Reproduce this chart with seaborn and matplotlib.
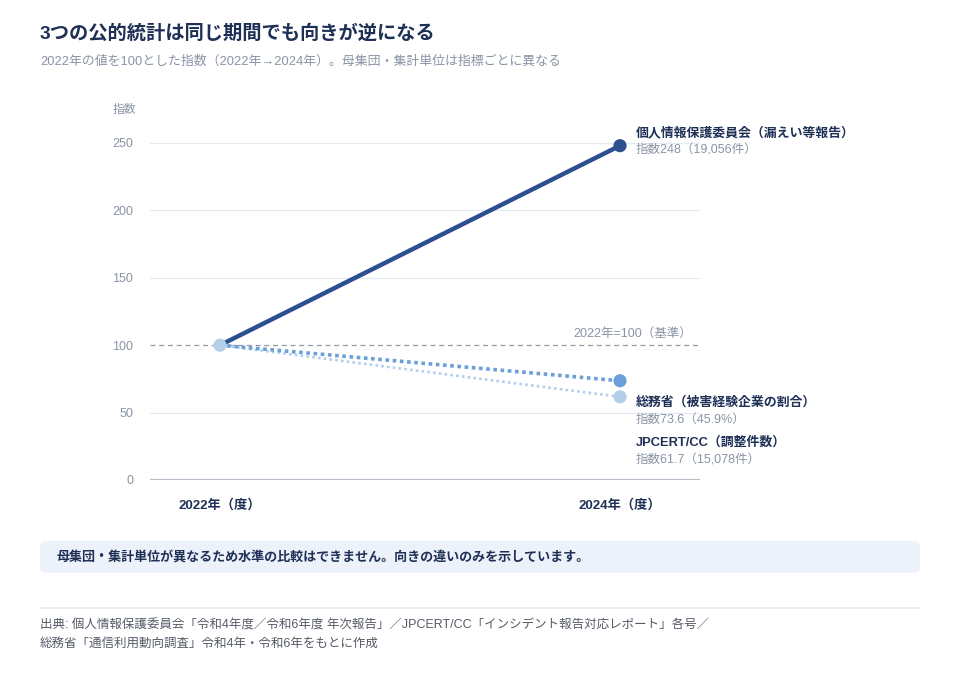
import pandas as pd
import seaborn as sns
import matplotlib.pyplot as plt
from matplotlib.patches import FancyBboxPatch

# data
years = ["2022年（度）", "2024年（度）"]
series_names = ["個人情報保護委員会（漏えい等報告）", "総務省（被害経験企業の割合）", "JPCERT/CC（調整件数）"]
index_2022 = [100, 100, 100]
index_2024 = [248, 73.6, 61.7]
value_notes = ["指数248（19,056件）", "指数73.6（45.9%）", "指数61.7（15,078件）"]
y_ticks = [0, 50, 100, 150, 200, 250]

colors = ["#2e4f8f", "#6a9fd8", "#b4cfec"]
styles = ["-", (0, (1, 1)), (0, (1, 1.2))]
widths = [3.2, 2.6, 1.9]
label_y = [133, 403, 443]  # px rows of the name labels

sns.set_theme(style="white")
plt.rcParams["font.family"] = ["Liberation Sans", "Noto Sans CJK JP", "DejaVu Sans"]

rows = []
for name, a, b in zip(series_names, index_2022, index_2024):
    rows.append({"series": name, "x": 0, "value": a})
    rows.append({"series": name, "x": 1, "value": b})
df = pd.DataFrame(rows)

W, H = 960, 680
fig = plt.figure(figsize=(9.6, 6.8), dpi=100)
ax = fig.add_axes([150 / W, 1 - 480 / H, 550 / W, (480 - 129.5) / H])

for y in [50, 150, 200, 250]:
    ax.axhline(y, color="#e6e9f0", lw=0.9, zorder=0)
ax.axhline(0, color="#b8bdca", lw=1.6, zorder=1)
ax.axhline(100, color="#9499a3", lw=0.9, ls=(0, (4, 3)), zorder=1)

for i in range(len(series_names)):
    sub = df[df["series"] == series_names[i]]
    sns.lineplot(data=sub, x="x", y="value", ax=ax, color=colors[i], lw=widths[i],
                 ls=styles[i], zorder=3 - i * 0.1, legend=False)
    ax.scatter([1], [index_2024[i]], s=90, color=colors[i], zorder=5, edgecolor="none")
ax.scatter([0], [100], s=90, color="#b4cfec", zorder=6, edgecolor="none")

ax.set_xlim(-0.175, 1.2)
ax.set_ylim(0, 260)
ax.set_yticks(y_ticks)
ax.set_yticklabels([str(t) for t in y_ticks], color="#8a94a6", fontsize=9)
ax.set_xticks([0, 1])
ax.set_xticklabels(years, color="#1f3057", fontsize=9.5, fontweight="bold")
ax.tick_params(axis="x", length=0, pad=14)
ax.tick_params(axis="y", length=0, pad=12)
ax.set_xlabel("")
ax.set_ylabel("")
for s in ax.spines.values():
    s.set_visible(False)

fig.text(124 / W, 1 - 110 / H, "指数", color="#8a94a6", fontsize=8.5, ha="center", va="center")
ax.text(1.18, 104, "2022年=100（基準）", color="#8a94a6", fontsize=9, ha="right", va="bottom")

for i in range(len(series_names)):
    fig.text(636 / W, 1 - label_y[i] / H, series_names[i], color="#1f3057", fontsize=9.3,
             fontweight="bold", va="center")
    fig.text(636 / W, 1 - (label_y[i] + 17) / H, value_notes[i], color="#8a94a6",
             fontsize=9, va="center")

fig.text(40 / W, 1 - 34 / H, "3つの公的統計は同じ期間でも向きが逆になる", color="#1f3057",
         fontsize=13.9, fontweight="bold", va="center")
fig.text(40 / W, 1 - 62 / H, "2022年の値を100とした指数（2022年→2024年）。母集団・集計単位は指標ごとに異なる",
         color="#8a94a6", fontsize=9.3, va="center")

box = FancyBboxPatch((40 / W, 1 - 573 / H), 880 / W, 32 / H, boxstyle="round,pad=0,rounding_size=0.008",
                     transform=fig.transFigure, facecolor="#edf1f9", edgecolor="none")
fig.patches.append(box)
fig.text(57 / W, 1 - 557 / H, "母集団・集計単位が異なるため水準の比較はできません。向きの違いのみを示しています。",
         color="#1f3057", fontsize=9.4, fontweight="bold", va="center")

fig.add_artist(plt.Line2D([40 / W, 920 / W], [1 - 608 / H, 1 - 608 / H], color="#e8eaee", lw=1.2))
fig.text(40 / W, 1 - 626 / H, "出典: 個人情報保護委員会「令和4年度／令和6年度 年次報告」／JPCERT/CC「インシデント報告対応レポート」各号／",
         color="#555b66", fontsize=9, va="center")
fig.text(40 / W, 1 - 644 / H, "総務省「通信利用動向調査」令和4年・令和6年をもとに作成",
         color="#555b66", fontsize=9, va="center")

fig.savefig("out.png", dpi=100, facecolor="white")
